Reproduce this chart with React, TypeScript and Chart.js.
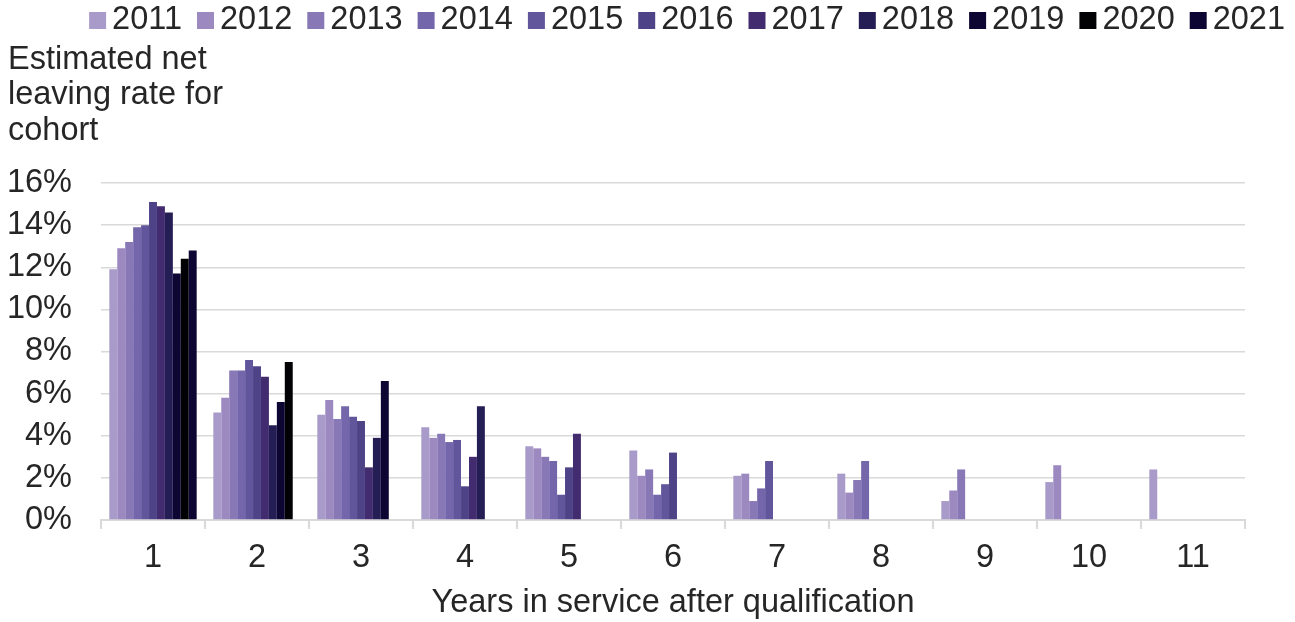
import React, { useEffect, useRef } from "react";
import { Chart, registerables } from "chart.js";

Chart.register(...registerables);

const categories = ["1", "2", "3", "4", "5", "6", "7", "8", "9", "10", "11"];
const cohorts = ["2011", "2012", "2013", "2014", "2015", "2016", "2017", "2018", "2019", "2020", "2021"];

const s2011 = [11.9, 5.1, 5.0, 4.4, 3.5, 3.3, 2.1, 2.2, 0.9, 1.8, 2.4];
const s2012 = [12.9, 5.8, 5.7, 3.9, 3.4, 2.1, 2.2, 1.3, 1.4, 2.6, null];
const s2013 = [13.2, 7.1, 4.8, 4.1, 3.0, 2.4, 0.9, 1.9, 2.4, null, null];
const s2014 = [13.9, 7.1, 5.4, 3.7, 2.8, 1.2, 1.5, 2.8, null, null, null];
const s2015 = [14.0, 7.6, 4.9, 3.8, 1.2, 1.7, 2.8, null, null, null, null];
const s2016 = [15.1, 7.3, 4.7, 1.6, 2.5, 3.2, null, null, null, null, null];
const s2017 = [14.9, 6.8, 2.5, 3.0, 4.1, null, null, null, null, null, null];
const s2018 = [14.6, 4.5, 3.9, 5.4, null, null, null, null, null, null, null];
const s2019 = [11.7, 5.6, 6.6, null, null, null, null, null, null, null, null];
const s2020 = [12.4, 7.5, null, null, null, null, null, null, null, null, null];
const s2021 = [12.8, null, null, null, null, null, null, null, null, null, null];

const seriesValues = [s2011, s2012, s2013, s2014, s2015, s2016, s2017, s2018, s2019, s2020, s2021];

const colors = [
  "#a99bc9",
  "#9c89c0",
  "#8878b6",
  "#7466ab",
  "#61569c",
  "#4f4388",
  "#432b70",
  "#241e55",
  "#0d0633",
  "#020205",
  "#0d0633",
];

const yTickValues = [0, 2, 4, 6, 8, 10, 12, 14, 16];
const yTitleLines = ["Estimated net", "leaving rate for", "cohort"];
const xTitle = "Years in service after qualification";

const FONT = "'Liberation Sans', Arial, sans-serif";
const FS = 32.5;
const TEXT = "#262626";
const GRID = "#d9d9d9";

// Legend drawn across the top, right-aligned (boxes + labels as real text)
const topLegend = {
  id: "topLegend",
  afterDraw(chart: any) {
    const ctx = chart.ctx;
    const box = 17;
    const gap = 6;
    const spacing = 15;
    const rightEdge = 1285;
    const boxTop = 12;
    const textMid = 20;
    ctx.save();
    ctx.font = `${FS}px ${FONT}`;
    const items = chart.data.datasets.map((d: any) => ({
      label: d.label,
      color: d.backgroundColor,
      w: ctx.measureText(d.label).width,
    }));
    let total = 0;
    items.forEach((it: any, i: number) => {
      total += box + gap + it.w + (i < items.length - 1 ? spacing : 0);
    });
    let x = rightEdge - total;
    ctx.textBaseline = "middle";
    ctx.textAlign = "left";
    items.forEach((it: any) => {
      ctx.fillStyle = it.color;
      ctx.fillRect(x, boxTop, box, box);
      x += box + gap;
      ctx.fillStyle = TEXT;
      ctx.fillText(it.label, x, textMid);
      x += it.w + spacing;
    });
    ctx.restore();
  },
};

export default function App() {
  const ref = useRef<HTMLCanvasElement | null>(null);

  useEffect(() => {
    if (!ref.current) return;
    const chart = new Chart(ref.current, {
      type: "bar",
      data: {
        labels: categories,
        datasets: cohorts.map((c, i) => ({
          label: c,
          data: seriesValues[i],
          backgroundColor: colors[i],
          borderWidth: 0,
          categoryPercentage: 0.84,
          barPercentage: 1,
          yAxisID: "y",
        })),
      },
      plugins: [topLegend],
      options: {
        responsive: false,
        animation: false,
        layout: { padding: { left: 8, right: 8, top: 35, bottom: 0 } },
        plugins: {
          tooltip: { enabled: false },
          legend: { display: false },
          title: {
            display: true,
            text: yTitleLines,
            align: "start",
            color: TEXT,
            font: { family: FONT, size: FS, weight: "normal", lineHeight: 35.5 / FS },
            padding: { top: 7.25, bottom: 34.25 },
          },
        },
        scales: {
          x: {
            type: "category",
            grid: {
              display: true,
              offset: true,
              drawOnChartArea: false,
              drawTicks: true,
              tickLength: 9,
              color: GRID,
              lineWidth: 2,
            },
            border: { display: true, color: GRID, width: 2 },
            ticks: {
              color: TEXT,
              font: { family: FONT, size: FS },
              padding: 10,
              maxRotation: 0,
              autoSkip: false,
            },
            title: {
              display: true,
              text: xTitle,
              color: TEXT,
              font: { family: FONT, size: FS, lineHeight: 1.0 },
              padding: { top: 0, bottom: 2.5 },
            },
            afterFit: (s: any) => {
              s.height = 102;
            },
          },
          y: {
            type: "linear",
            position: "left",
            min: 0,
            max: 16,
            afterBuildTicks: (s: any) => {
              s.ticks = yTickValues.map((v) => ({ value: v }));
            },
            grid: { color: GRID, lineWidth: 1.5, drawTicks: false },
            border: { display: false },
            ticks: {
              color: TEXT,
              font: { family: FONT, size: FS },
              padding: 29,
              autoSkip: false,
              callback: (v: any) => `${v}%`,
            },
            afterFit: (s: any) => {
              s.width = 93;
            },
          },
          yR: {
            type: "linear",
            position: "right",
            display: true,
            grid: { display: false, drawTicks: false },
            border: { display: false },
            ticks: { display: false },
            afterFit: (s: any) => {
              s.width = 42;
            },
          },
        },
      },
    });
    return () => chart.destroy();
  }, []);

  return (
    <div style={{ position: "fixed", left: 0, top: 0, width: 1295, height: 622, background: "#fff" }}>
      <canvas ref={ref} width={1295} height={622} style={{ display: "block" }} />
    </div>
  );
}
